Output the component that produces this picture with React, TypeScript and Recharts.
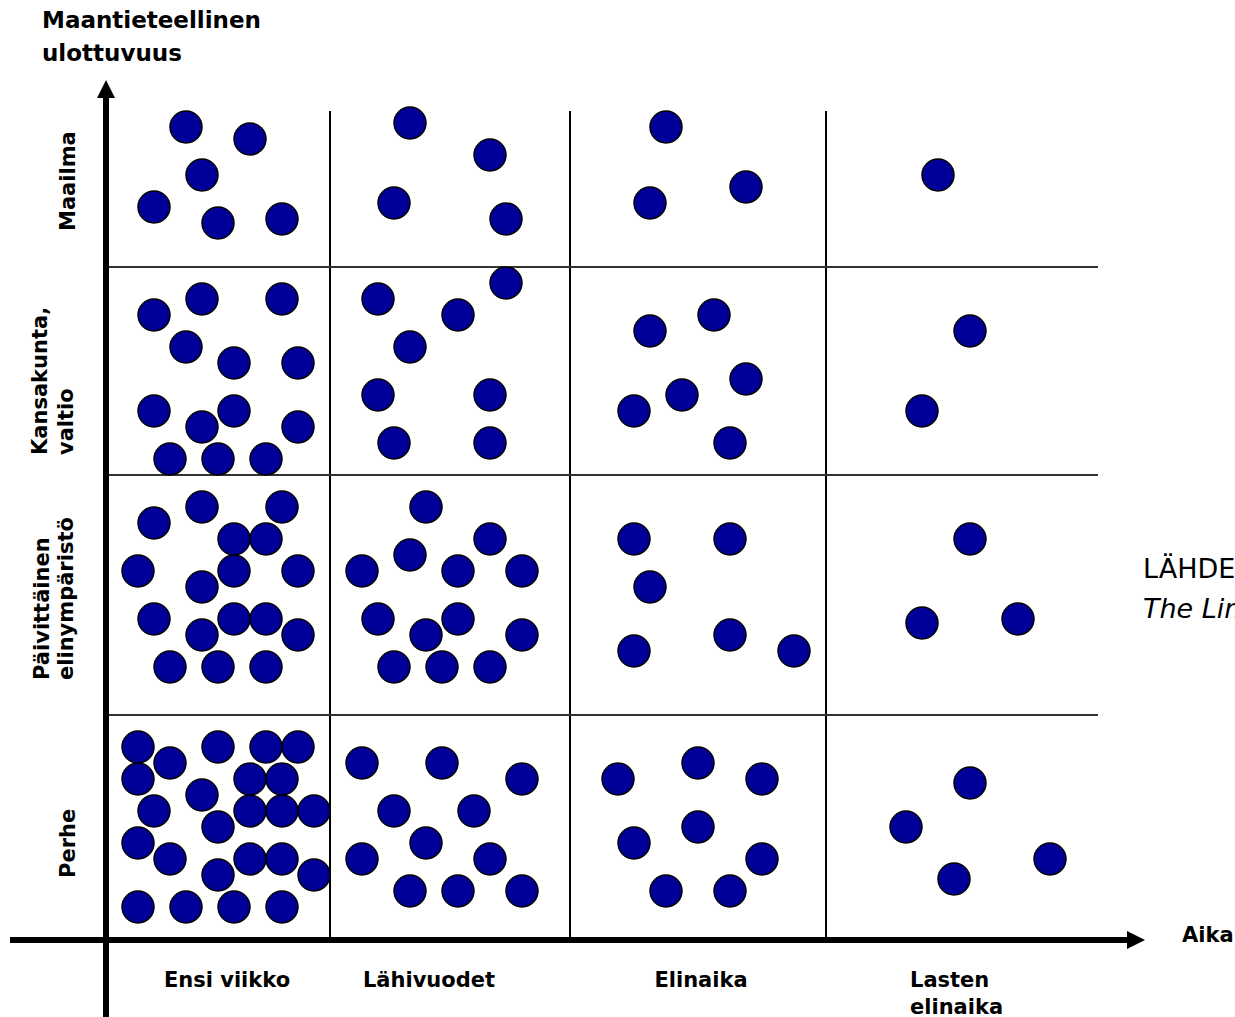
import { ScatterChart, Scatter, XAxis, YAxis, ReferenceLine } from "recharts";

// Units: px-like distance from the axis crossing; x = time, y = geographic reach.
type Pt = { x: number; y: number };

const maailma: Pt[] = [
  { x: 80, y: 813 }, { x: 144, y: 801 }, { x: 96, y: 765 }, { x: 48, y: 733 }, { x: 112, y: 717 }, { x: 176, y: 721 },
  { x: 304, y: 817 }, { x: 384, y: 785 }, { x: 288, y: 737 }, { x: 400, y: 721 },
  { x: 560, y: 813 }, { x: 640, y: 753 }, { x: 544, y: 737 },
  { x: 832, y: 765 },
];

const kansakunta: Pt[] = [
  { x: 96, y: 641 }, { x: 176, y: 641 }, { x: 48, y: 625 }, { x: 80, y: 593 }, { x: 128, y: 577 }, { x: 192, y: 577 },
  { x: 48, y: 529 }, { x: 128, y: 529 }, { x: 96, y: 513 }, { x: 192, y: 513 }, { x: 64, y: 481 }, { x: 112, y: 481 }, { x: 160, y: 481 },
  { x: 400, y: 657 }, { x: 272, y: 641 }, { x: 352, y: 625 }, { x: 304, y: 593 }, { x: 272, y: 545 }, { x: 384, y: 545 },
  { x: 288, y: 497 }, { x: 384, y: 497 },
  { x: 608, y: 625 }, { x: 544, y: 609 }, { x: 640, y: 561 }, { x: 576, y: 545 }, { x: 528, y: 529 }, { x: 624, y: 497 },
  { x: 864, y: 609 }, { x: 816, y: 529 },
];

const elinymparisto: Pt[] = [
  { x: 96, y: 433 }, { x: 176, y: 433 }, { x: 48, y: 417 }, { x: 128, y: 401 }, { x: 160, y: 401 }, { x: 32, y: 369 },
  { x: 128, y: 369 }, { x: 192, y: 369 }, { x: 96, y: 353 }, { x: 48, y: 321 }, { x: 128, y: 321 }, { x: 160, y: 321 },
  { x: 96, y: 305 }, { x: 192, y: 305 }, { x: 64, y: 273 }, { x: 112, y: 273 }, { x: 160, y: 273 },
  { x: 320, y: 433 }, { x: 384, y: 401 }, { x: 304, y: 385 }, { x: 256, y: 369 }, { x: 352, y: 369 }, { x: 416, y: 369 },
  { x: 272, y: 321 }, { x: 352, y: 321 }, { x: 320, y: 305 }, { x: 416, y: 305 }, { x: 288, y: 273 }, { x: 336, y: 273 }, { x: 384, y: 273 },
  { x: 528, y: 401 }, { x: 624, y: 401 }, { x: 544, y: 353 }, { x: 528, y: 289 }, { x: 624, y: 305 }, { x: 688, y: 289 },
  { x: 864, y: 401 }, { x: 816, y: 317 }, { x: 912, y: 321 },
];

const perhe: Pt[] = [
  { x: 32, y: 193 }, { x: 112, y: 193 }, { x: 160, y: 193 }, { x: 192, y: 193 }, { x: 64, y: 177 }, { x: 32, y: 161 },
  { x: 144, y: 161 }, { x: 176, y: 161 }, { x: 96, y: 145 }, { x: 48, y: 129 }, { x: 144, y: 129 }, { x: 176, y: 129 },
  { x: 208, y: 129 }, { x: 112, y: 113 }, { x: 32, y: 97 }, { x: 64, y: 81 }, { x: 144, y: 81 }, { x: 176, y: 81 },
  { x: 112, y: 65 }, { x: 208, y: 65 }, { x: 32, y: 33 }, { x: 80, y: 33 }, { x: 128, y: 33 }, { x: 176, y: 33 },
  { x: 256, y: 177 }, { x: 336, y: 177 }, { x: 416, y: 161 }, { x: 288, y: 129 }, { x: 368, y: 129 }, { x: 320, y: 97 },
  { x: 256, y: 81 }, { x: 384, y: 81 }, { x: 304, y: 49 }, { x: 352, y: 49 }, { x: 416, y: 49 },
  { x: 512, y: 161 }, { x: 592, y: 177 }, { x: 656, y: 161 }, { x: 592, y: 113 }, { x: 528, y: 97 }, { x: 656, y: 81 },
  { x: 560, y: 49 }, { x: 624, y: 49 },
  { x: 864, y: 157 }, { x: 800, y: 113 }, { x: 944, y: 81 }, { x: 848, y: 61 },
];

// column and row boundaries
const columnEdges = [224, 464, 720];
const rowEdges = [225, 465, 673];
const gridTop = 829;
const gridRight = 992;

const columnLabels = ["Ensi viikko", "Lähivuodet", "Elinaika"];
const lastColumnLabel = ["Lasten", "elinaika"];
const rowLabels = [["Maailma"], ["Kansakunta,", "valtio"], ["Päivittäinen", "elinympäristö"], ["Perhe"]];

const Dot = (props: any) => (
  <circle cx={props.cx} cy={props.cy} r={16} fill="#000099" stroke="#000" strokeWidth={1.5} />
);

const ArrowLine = (props: any) => {
  const { x1, y1, x2, y2 } = props;
  const horizontal = Math.abs(y2 - y1) < Math.abs(x2 - x1);
  let head;
  if (horizontal) {
    head = `${x2},${y2} ${x2 - 18},${y2 - 9} ${x2 - 18},${y2 + 9}`;
  } else {
    head = `${x2},${y2} ${x2 - 9},${y2 + 18} ${x2 + 9},${y2 + 18}`;
  }
  return (
    <g>
      <line
        x1={x1}
        y1={y1}
        x2={horizontal ? x2 - 16 : x2}
        y2={horizontal ? y2 : y2 + 16}
        stroke="#000"
        strokeWidth={6}
      />
      <polygon points={head} fill="#000" />
    </g>
  );
};

const bold = { fontFamily: "DejaVu Sans", fontWeight: 700, fontSize: 21, fill: "#000" };

export default function App() {
  return (
    <div style={{ position: "absolute", left: 0, top: 0, width: 1235, height: 1017, background: "#fff", overflow: "hidden" }}>
      <ScatterChart width={1235} height={1017} margin={{ top: 0, right: 0, bottom: 0, left: 0 }}>
        <XAxis type="number" dataKey="x" domain={[-106, 1129]} allowDataOverflow hide />
        <YAxis type="number" dataKey="y" domain={[-77, 940]} allowDataOverflow hide />
        {columnEdges.map((x) => (
          <ReferenceLine key={"c" + x} segment={[{ x, y: 0 }, { x, y: gridTop }]} stroke="#000" strokeWidth={2} />
        ))}
        {rowEdges.map((y) => (
          <ReferenceLine key={"r" + y} segment={[{ x: 0, y }, { x: gridRight, y }]} stroke="#333" strokeWidth={2} />
        ))}
        <ReferenceLine segment={[{ x: -96, y: 0 }, { x: 1039, y: 0 }]} shape={ArrowLine} />
        <ReferenceLine segment={[{ x: 0, y: -77 }, { x: 0, y: 860 }]} shape={ArrowLine} />
        <Scatter name="Maailma" data={maailma} shape={Dot} isAnimationActive={false} />
        <Scatter name="Kansakunta, valtio" data={kansakunta} shape={Dot} isAnimationActive={false} />
        <Scatter name="Päivittäinen elinympäristö" data={elinymparisto} shape={Dot} isAnimationActive={false} />
        <Scatter name="Perhe" data={perhe} shape={Dot} isAnimationActive={false} />
      </ScatterChart>
      <svg width={1235} height={1017} style={{ position: "absolute", left: 0, top: 0, pointerEvents: "none" }}>
        <text x={42} y={28} {...bold} fontSize={23}>Maantieteellinen</text>
        <text x={42} y={61} {...bold} fontSize={23}>ulottuvuus</text>
        <text x={227} y={987} {...bold} textAnchor="middle">{columnLabels[0]}</text>
        <text x={429} y={987} {...bold} textAnchor="middle">{columnLabels[1]}</text>
        <text x={701} y={987} {...bold} textAnchor="middle">{columnLabels[2]}</text>
        <text x={910} y={987} {...bold}>{lastColumnLabel[0]}</text>
        <text x={910} y={1014} {...bold}>{lastColumnLabel[1]}</text>
        <text x={1182} y={942} {...bold}>Aika</text>
        <text transform="rotate(-90 75 231)" x={75} y={231} {...bold}>{rowLabels[0][0]}</text>
        <text transform="rotate(-90 47 455)" x={47} y={455} {...bold}>{rowLabels[1][0]}</text>
        <text transform="rotate(-90 73 455)" x={73} y={455} {...bold}>{rowLabels[1][1]}</text>
        <text transform="rotate(-90 49 680)" x={49} y={680} {...bold}>{rowLabels[2][0]}</text>
        <text transform="rotate(-90 73 680)" x={73} y={680} {...bold}>{rowLabels[2][1]}</text>
        <text transform="rotate(-90 75 878)" x={75} y={878} {...bold}>{rowLabels[3][0]}</text>
        <text x={1143} y={578} fontFamily="DejaVu Sans" fontSize={27} fill="#000">LÄHDE: Meadows ym. 1972,</text>
        <text x={1143} y={618} fontFamily="DejaVu Sans" fontSize={27} fontStyle="italic" fill="#000">The Limits to Growth</text>
      </svg>
    </div>
  );
}
